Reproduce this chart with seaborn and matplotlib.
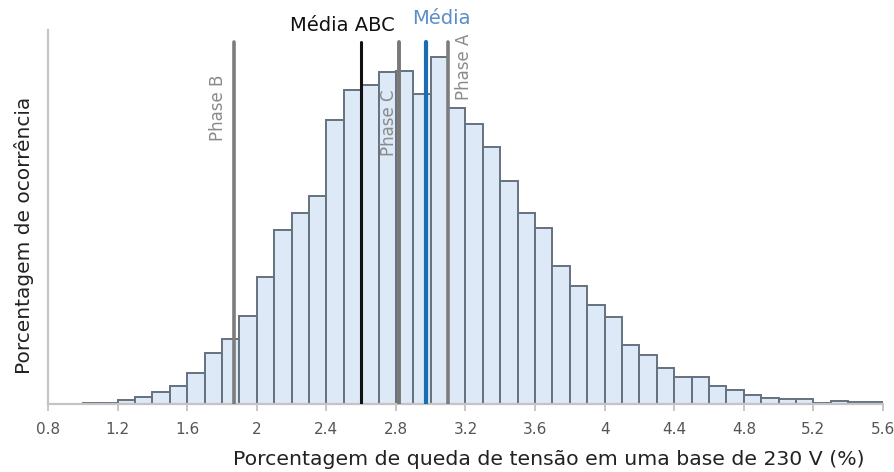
import numpy as np
import pandas as pd
import seaborn as sns
import matplotlib
matplotlib.use("Agg")
import matplotlib.pyplot as plt

# bin edges of the histogram (voltage drop, %)
bin_left = [1.0, 1.1, 1.2, 1.3, 1.4, 1.5, 1.6, 1.7, 1.8, 1.9,
            2.0, 2.1, 2.2, 2.3, 2.4, 2.5, 2.6, 2.7, 2.8, 2.9,
            3.0, 3.1, 3.2, 3.3, 3.4, 3.5, 3.6, 3.7, 3.8, 3.9,
            4.0, 4.1, 4.2, 4.3, 4.4, 4.5, 4.6, 4.7, 4.8, 4.9,
            5.0, 5.1, 5.2, 5.3, 5.4, 5.5]
# occurrence (%) per bin
occurrence = [0.02, 0.02, 0.07, 0.13, 0.23, 0.34, 0.58, 0.96, 1.22, 1.65,
              2.37, 3.25, 3.58, 3.90, 5.32, 5.87, 5.97, 6.21, 6.24, 5.80,
              6.50, 5.54, 5.24, 4.81, 4.18, 3.58, 3.29, 2.59, 2.20, 1.85,
              1.63, 1.10, 0.91, 0.67, 0.50, 0.50, 0.33, 0.26, 0.16, 0.12,
              0.09, 0.09, 0.02, 0.06, 0.03, 0.03]
bin_width = 0.1

# reference lines
line_names = ["Phase B", "Média ABC", "Phase C", "Média", "Phase A"]
line_values = [1.867, 2.60, 2.82, 2.975, 3.10]

tick_values = [0.8, 1.2, 1.6, 2.0, 2.4, 2.8, 3.2, 3.6, 4.0, 4.4, 4.8, 5.2, 5.6]
tick_labels = ["0.8", "1.2", "1.6", "2", "2.4", "2.8", "3.2", "3.6", "4", "4.4", "4.8", "5.2", "5.6"]

df = pd.DataFrame({"queda": np.array(bin_left) + bin_width / 2, "pct": occurrence})
edges = list(bin_left) + [bin_left[-1] + bin_width]

sns.set_style("white")
plt.rcParams["font.family"] = ["DejaVu Sans"]

fig = plt.figure(figsize=(8.95, 4.72), dpi=100)
ax = fig.add_axes([0.0536, 0.1441, 0.9330, 0.7923])

sns.histplot(data=df, x="queda", weights="pct", bins=edges, ax=ax,
             color="#dde9f6", alpha=1, edgecolor="#64717f", linewidth=1.4)

line_colors = ["#7d7d7d", "#111111", "#7a7774", "#1b6db3", "#7d7d7d"]
line_widths = [2.6, 2.2, 2.8, 3.0, 2.6]
for v, c, w in zip(line_values, line_colors, line_widths):
    ax.axvline(v, ymin=0, ymax=0.968, color=c, lw=w, zorder=5)

# labels of the lines
ax.text(2.49, 7.09, "Média ABC", ha="center", va="center", fontsize=14,
        color="#111111", clip_on=False)
ax.text(3.06, 7.22, "Média", ha="center", va="center", fontsize=14,
        color="#5b8ec6", clip_on=False)
ax.text(1.775, 5.54, "Phase B", rotation=90, ha="center", va="center",
        fontsize=12, color="#8a8a8a", clip_on=False)
ax.text(2.762, 5.26, "Phase C", rotation=90, ha="center", va="center",
        fontsize=12, color="#8a8a8a", clip_on=False)
ax.text(3.194, 6.31, "Phase A", rotation=90, ha="center", va="center",
        fontsize=12, color="#8a8a8a", clip_on=False)

ax.set_xlim(0.8, 5.6)
ax.set_ylim(0, 7.0)
ax.set_xticks(tick_values)
ax.set_xticklabels(tick_labels)
ax.set_yticks([])
ax.tick_params(axis="x", colors="#bdbdbd", labelcolor="#555555", labelsize=11,
               length=5, width=1.2, direction="out", bottom=True, pad=8)
ax.set_xlabel("Porcentagem de queda de tensão em uma base de 230 V (%)",
              fontsize=14.7, color="#222222", labelpad=9, x=0.60)
ax.set_ylabel("Porcentagem de ocorrência", fontsize=14.5, color="#222222",
              labelpad=10, y=0.45)

sns.despine(ax=ax, top=True, right=True)
for side in ["left", "bottom"]:
    ax.spines[side].set_color("#c4c4c4")
    ax.spines[side].set_linewidth(1.6)

fig.savefig("out.png", dpi=100)
